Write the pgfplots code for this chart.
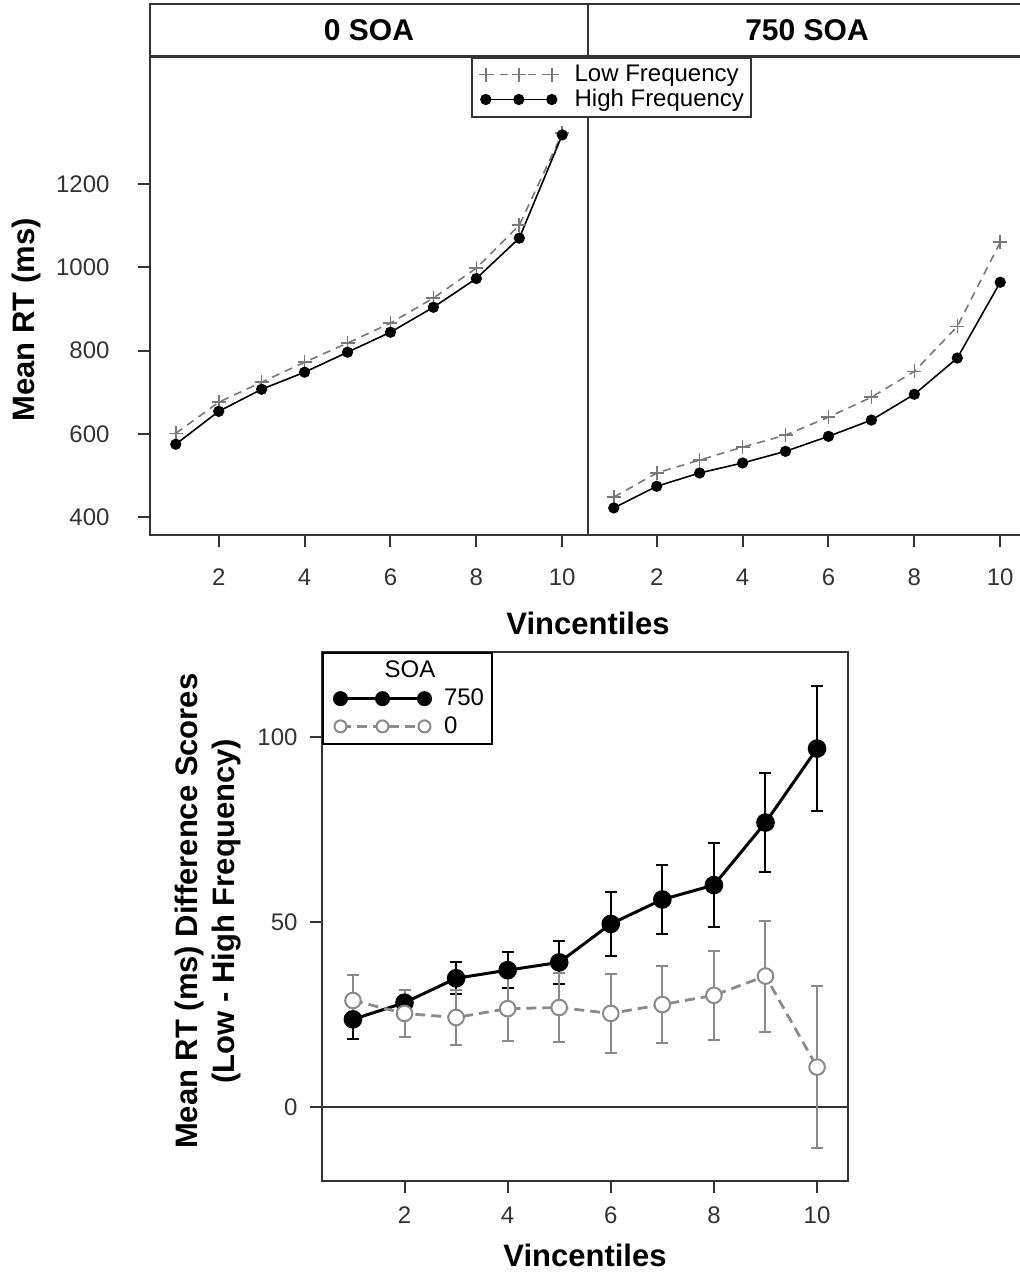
\documentclass[border=0pt]{standalone}
\usepackage{fontspec}
\setmainfont{Liberation Sans}
\usepackage{pgfplots}
\pgfplotsset{compat=1.18}

\definecolor{lowgray}{HTML}{787878}
\definecolor{zerogray}{HTML}{8A8A8A}
\definecolor{axcol}{HTML}{333333}

\newcommand{\tk}{\fontsize{12}{13}\selectfont}
\newcommand{\lb}{\fontsize{15.5}{18.5}\selectfont\bfseries}
\newcommand{\ttl}{\fontsize{15}{17}\selectfont\bfseries}

\pgfplotsset{
  rstyle/.style={
    scale only axis,
    tick align=outside, tick pos=left,
    axis line style={line width=1pt, axcol},
    major tick length=6pt,
    tick style={line width=1pt, axcol},
    ticklabel style={font=\tk, text=black!80},
    /pgf/number format/assume math mode=true,
    /pgf/number format/1000 sep={},
    label style={font=\lb},
  },
  strip/.style={
    every axis title/.style={at={(0.5,1)}, anchor=south, font=\ttl,
      draw=axcol, line width=1pt, minimum width=219pt, minimum height=26pt,
      inner sep=0pt},
  },
}

\begin{document}
\begin{tikzpicture}
\path[use as bounding box] (0,0) rectangle (510pt,-637pt);

% ---- top left: 0 SOA ----
\begin{axis}[rstyle, strip,
  at={(75pt,-28.5pt)}, anchor=north west,
  width=219pt, height=239pt,
  xmin=0.4, xmax=10.6, ymin=357, ymax=1505,
  xtick={2,4,...,10}, ytick={400,600,...,1200},
  xticklabel style={yshift=-7.4pt},
  yticklabel style={xshift=-10.7pt},
  title={0 SOA},
  xlabel={Vincentiles},
  xlabel style={at={(axis description cs:1,-0.184)}, anchor=center},
  ylabel={Mean RT (ms)},
  ylabel style={at={(axis description cs:-0.281,0.45)}, anchor=center},
]
\addplot[lowgray, line width=0.8pt, dash pattern=on 4pt off 3pt, mark=+, mark size=3.5pt, mark options={solid}]
  coordinates {(1,601) (2,676) (3,724) (4,772) (5,818) (6,866) (7,926) (8,998) (9,1101) (10,1322)};
\addplot[black, line width=0.8pt, mark=*, mark size=2.4pt]
  coordinates {(1,575) (2,654) (3,707) (4,748) (5,796) (6,844) (7,904) (8,973) (9,1070) (10,1318)};
\end{axis}

% ---- top right: 750 SOA ----
\begin{axis}[rstyle, strip,
  at={(294pt,-28.5pt)}, anchor=north west,
  width=219pt, height=239pt,
  xmin=0.4, xmax=10.6, ymin=357, ymax=1505,
  xtick={2,4,...,10}, ytick=\empty,
  xticklabel style={yshift=-7.4pt},
  title={750 SOA},
  legend style={at={(0.374,1)}, anchor=north east, draw=axcol, line width=0.8pt,
    fill=white, font=\tk, inner sep=1.5pt, row sep=-1.5pt, cells={anchor=west}},
  legend image code/.code={%
    \draw[#1] plot coordinates {(0pt,0pt) (16.5pt,0pt) (33pt,0pt)};
    \path (-5pt,0pt) (42pt,0pt);},
]
\addplot[lowgray, line width=0.8pt, dash pattern=on 4pt off 3pt, mark=+, mark size=3.5pt, mark options={solid}]
  coordinates {(1,448) (2,506) (3,537) (4,568) (5,597) (6,640) (7,688) (8,750) (9,858) (10,1060)};
\addlegendentry{Low Frequency}
\addplot[black, line width=0.8pt, mark=*, mark size=2.4pt]
  coordinates {(1,422) (2,474) (3,506) (4,530) (5,558) (6,594) (7,633) (8,695) (9,782) (10,964)};
\addlegendentry{High Frequency}
\end{axis}

% ---- bottom: difference scores ----
\begin{axis}[rstyle,
  at={(161pt,-326pt)}, anchor=north west,
  width=263pt, height=264.5pt,
  xmin=0.4, xmax=10.6, ymin=-20, ymax=123,
  xtick={2,4,...,10}, ytick={0,50,100},
  xticklabel style={yshift=-3.4pt},
  yticklabel style={xshift=-2.7pt},
  xlabel={Vincentiles},
  xlabel style={at={(axis description cs:0.5,-0.14)}, anchor=center},
  ylabel={Mean RT (ms) Difference Scores\\(Low - High Frequency)},
  ylabel style={align=center, at={(axis description cs:-0.217,0.51)}, anchor=center},
  legend style={at={(0,1)}, anchor=north west, draw=black, line width=1pt,
    fill=white, font=\tk, inner sep=2pt, row sep=0pt, cells={anchor=west}},
  legend image code/.code={%
    \draw[#1, mark size=3pt] plot coordinates {(0pt,0pt) (21pt,0pt) (42pt,0pt)};
    \path (-6pt,0pt) (49pt,0pt);},
]
\addplot[axcol, line width=0.8pt, forget plot] coordinates {(0.4,0) (10.6,0)};
\addlegendimage{empty legend}
\addlegendentry{\hspace*{-31pt}SOA}
\addplot[black, line width=1.5pt, mark=*, mark size=3.9pt,
  error bars/.cd, y dir=both, y explicit,
  error bar style={line width=1pt, black},
  error mark=-,
  error mark options={rotate=90, line width=1pt, black, mark size=3pt}]
  coordinates {
  (1,23.7) +- (0,5.3)   (2,28.2) +- (0,3.5)   (3,34.8) +- (0,4.3)
  (4,37.0) +- (0,4.9)   (5,39.1) +- (0,5.8)   (6,49.5) +- (0,8.7)
  (7,56.1) +- (0,9.3)   (8,60.0) +- (0,11.3)  (9,76.9) +- (0,13.5)
  (10,96.9) +- (0,17.0)};
\addlegendentry{750}
\addplot[zerogray, line width=1.4pt, dash pattern=on 5pt off 3pt, mark=*, mark size=3.9pt,
  mark options={solid, fill=white, draw=zerogray, line width=1pt},
  error bars/.cd, y dir=both, y explicit,
  error bar style={line width=1pt, zerogray, solid},
  error mark=-,
  error mark options={rotate=90, line width=1pt, zerogray, mark size=3pt}]
  coordinates {
  (1,28.8) +- (0,6.9)   (2,25.3) +- (0,6.3)   (3,24.2) +- (0,7.4)
  (4,26.6) +- (0,8.7)   (5,26.9) +- (0,9.2)   (6,25.3) +- (0,10.6)
  (7,27.7) +- (0,10.4)  (8,30.2) +- (0,12.0)  (9,35.4) +- (0,15.0)
  (10,10.8) +- (0,22.0)};
\addlegendentry{0}
\end{axis}
\end{tikzpicture}
\end{document}
